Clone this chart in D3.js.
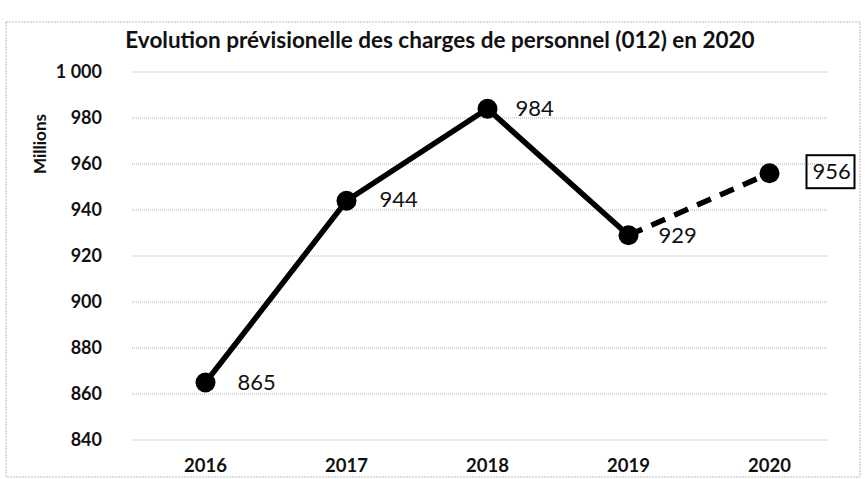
<!DOCTYPE html>
<html>
<head>
<meta charset="utf-8">
<script src="https://cdn.jsdelivr.net/npm/d3@7"></script>
<style>
  body { margin: 0; background: #fff; }
  text { font-family: Lato, "Open Sans", sans-serif; fill: #111; }
</style>
</head>
<body>
<div id="chart"></div>
<script>
var years = ["2016", "2017", "2018", "2019", "2020"];
var values = [865, 944, 984, 929, 956];
var yTicks = [840, 860, 880, 900, 920, 940, 960, 980, 1000];
var title = "Evolution prévisionelle des charges de personnel (012) en 2020";

var width = 865, height = 479;
var margin = {top: 72, right: 25, bottom: 39, left: 135};

var svg = d3.select("#chart").append("svg")
  .attr("width", width)
  .attr("height", height);

// outer frame of the chart
svg.append("rect")
  .attr("x", 6).attr("y", 22)
  .attr("width", 854).attr("height", 455)
  .attr("fill", "none")
  .attr("stroke", "#bbb")
  .attr("stroke-dasharray", "2,1");

var x = d3.scaleBand()
  .domain(years)
  .range([margin.left, width - margin.right]);

var y = d3.scaleLinear()
  .domain([840, 1000])
  .range([height - margin.bottom, margin.top]);

// gridlines
svg.append("g")
  .selectAll("line")
  .data(yTicks)
  .join("line")
    .attr("x1", 132)
    .attr("x2", width - margin.right - 12)
    .attr("y1", function(d) { return y(d); })
    .attr("y2", function(d) { return y(d); })
    .attr("stroke", "#999")
    .attr("stroke-width", 0.8)
    .attr("stroke-dasharray", "1,1");

// y axis labels
svg.append("g")
  .selectAll("text")
  .data(yTicks)
  .join("text")
    .attr("x", 102)
    .attr("y", function(d) { return y(d); })
    .attr("dy", "0.35em")
    .attr("text-anchor", "end")
    .attr("font-size", 18)
    .attr("font-weight", "bold")
    .text(function(d) { return d3.format(",")(d).replace(",", " "); });

// x axis labels
svg.append("g")
  .selectAll("text")
  .data(years)
  .join("text")
    .attr("x", function(d) { return x(d) + x.bandwidth() / 2; })
    .attr("y", 472)
    .attr("text-anchor", "middle")
    .attr("font-size", 18.5)
    .attr("font-weight", "bold")
    .text(function(d) { return d; });

svg.append("text")
  .attr("transform", "translate(46,144) rotate(-90)")
  .attr("text-anchor", "middle")
  .attr("font-size", 17)
  .attr("font-weight", "bold")
  .text("Millions");

svg.append("text")
  .attr("x", 440)
  .attr("y", 48)
  .attr("text-anchor", "middle")
  .attr("font-size", 22.5)
  .attr("font-weight", "bold")
  .text(title);

var pts = years.map(function(d, i) {
  return {year: d, value: values[i], cx: x(d) + x.bandwidth() / 2, cy: y(values[i])};
});

var line = d3.line()
  .x(function(d) { return d.cx; })
  .y(function(d) { return d.cy; });

svg.append("path")
  .datum(pts.slice(0, 4))
  .attr("d", line)
  .attr("fill", "none")
  .attr("stroke", "#000")
  .attr("stroke-width", 5.5);

svg.append("path")
  .datum(pts.slice(3))
  .attr("d", line)
  .attr("fill", "none")
  .attr("stroke", "#000")
  .attr("stroke-width", 5.5)
  .attr("stroke-dasharray", "15,10");

svg.append("g")
  .selectAll("circle")
  .data(pts)
  .join("circle")
    .attr("cx", function(d) { return d.cx; })
    .attr("cy", function(d) { return d.cy; })
    .attr("r", 10)
    .attr("fill", "#000");

// value labels (last one sits in its box)
var offsets = [[32, 0], [33, -2], [28, -1], [30, 0], [43, -2]];
svg.append("g")
  .selectAll("text")
  .data(pts)
  .join("text")
    .attr("x", function(d, i) { return d.cx + offsets[i][0]; })
    .attr("y", function(d, i) { return d.cy + offsets[i][1]; })
    .attr("dy", "0.35em")
    .attr("font-size", 22)
    .text(function(d) { return d.value; });

// box around the forecast label
var last = pts[4];
svg.append("rect")
  .attr("x", last.cx + 37)
  .attr("y", last.cy - 18)
  .attr("width", 48)
  .attr("height", 33)
  .attr("fill", "none")
  .attr("stroke", "#000")
  .attr("stroke-width", 2);
</script>
</body>
</html>
